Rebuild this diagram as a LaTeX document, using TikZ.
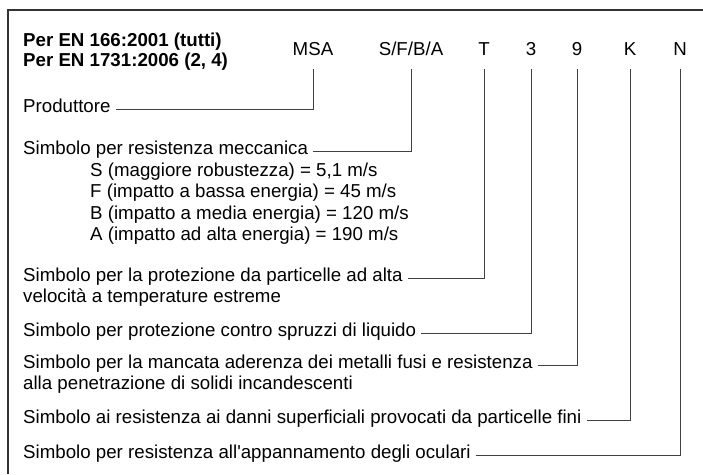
\documentclass[tikz,border=0pt]{standalone}
\usepackage{fontspec}
\setmainfont{Liberation Sans}
\usetikzlibrary{positioning,calc}
\newcommand{\labelsize}{\fontsize{18.7}{21.5}\selectfont}

\begin{document}
\begin{tikzpicture}[x=1pt,y=-1pt,
	txt/.style={anchor=base west,inner xsep=5pt,inner ysep=0pt,font=\labelsize},
	head/.style={txt,font=\labelsize\bfseries},
	code/.style={anchor=base,inner sep=0pt,font=\labelsize},
	link/.style={draw=black!75,line width=0.9pt}]

	\useasboundingbox (0,0) rectangle (703,474);

	% frame
	\draw[line width=2pt,black!80] (703,10) -- (8,10) -- (8,474);

	% header
	\node[head] (head1) at (18,46.5) {Per EN 166:2001 (tutti)};
	\node[head] (head2) at (18,66.5) {Per EN 1731:2006 (2, 4)};

	% marking
	\node[code] (msa) at (313,55) {MSA};
	\node[code] (mech) at (411,55) {S/F/B/A};
	\node[code] (temp) at (484,55) {T};
	\node[code] (liq) at (531,55) {3};
	\node[code] (molten) at (577,55) {9};
	\node[code] (fine) at (630,55) {K};
	\node[code] (fog) at (680,55) {N};

	% labels
	\node[txt] (prod) at (18,112) {Produttore};
	\node[txt] (mechlbl) at (18,154) {Simbolo per resistenza meccanica};
	\node[txt] (clsS) at (85,176) {S (maggiore robustezza) = 5,1 m/s};
	\node[txt] (clsF) at (85,197.5) {F (impatto a bassa energia) = 45 m/s};
	\node[txt] (clsB) at (85,219) {B (impatto a media energia) = 120 m/s};
	\node[txt] (clsA) at (85,240.5) {A (impatto ad alta energia) = 190 m/s};
	\node[txt] (templbl) at (18,281) {Simbolo per la protezione da particelle ad alta};
	\node[txt] (templbl2) at (18,302.5) {velocità a temperature estreme};
	\node[txt] (liqlbl) at (18,336) {Simbolo per protezione contro spruzzi di liquido};
	\node[txt] (moltenlbl) at (18,368) {Simbolo per la mancata aderenza dei metalli fusi e resistenza};
	\node[txt] (moltenlbl2) at (18,389.5) {alla penetrazione di solidi incandescenti};
	\node[txt] (finelbl) at (18,423) {Simbolo ai resistenza ai danni superficiali provocati da particelle fini};
	\node[txt] (foglbl) at (18,458) {Simbolo per resistenza all\textquotesingle appannamento degli oculari};

	% Lines
	\draw[link] (prod.mid east) -| ([yshift=-14pt]msa.base);
	\draw[link] (mechlbl.mid east) -| ([yshift=-14pt]mech.base);
	\draw[link] (templbl.mid east) -| ([yshift=-14pt]temp.base);
	\draw[link] (liqlbl.mid east) -| ([yshift=-14pt]liq.base);
	\draw[link] (moltenlbl.mid east) -| ([yshift=-14pt]molten.base);
	\draw[link] (finelbl.mid east) -| ([yshift=-14pt]fine.base);
	\draw[link] (foglbl.mid east) -| ([yshift=-14pt]fog.base);
\end{tikzpicture}
\end{document}
